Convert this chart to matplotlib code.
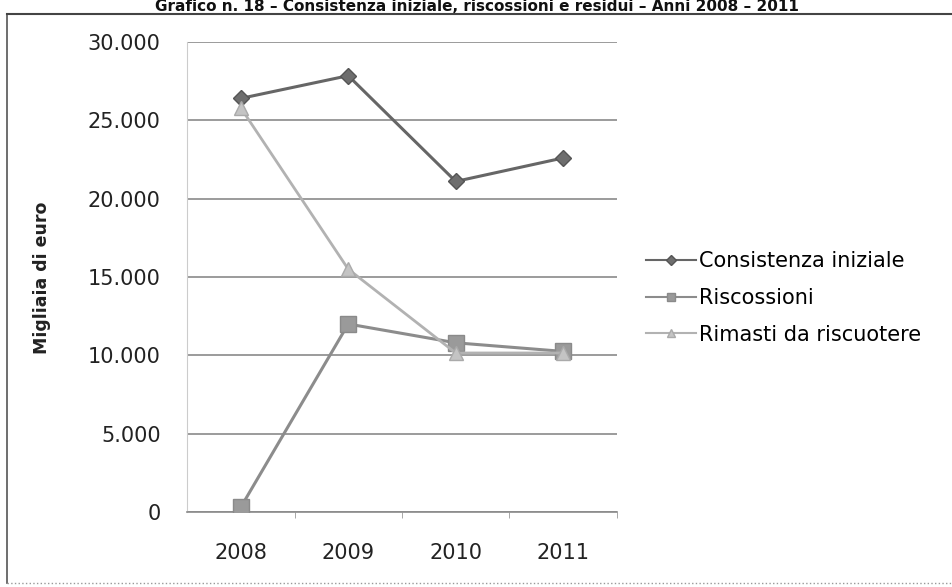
import matplotlib.pyplot as plt
from matplotlib.lines import Line2D
from matplotlib.ticker import FuncFormatter

# dati (migliaia di euro)
anni = ['2008', '2009', '2010', '2011']
consistenza = [26400, 27850, 21100, 22600]
riscossioni = [300, 12000, 10800, 10250]
rimasti = [25800, 15500, 10150, 10150]

fig = plt.figure(figsize=(9.53, 5.87), dpi=100)
ax = fig.add_axes([187 / 953, 1 - 512 / 587, 430 / 953, 470 / 587])

x = range(len(anni))
ax.plot(x, consistenza, color='#666666', lw=2.2, marker='D', ms=8,
        mec='#555555', mfc='#6e6e6e', label='Consistenza iniziale', zorder=4)
ax.plot(x, riscossioni, color='#8c8c8c', lw=2.2, marker='s', ms=11,
        mec='#8a8a8a', mfc='#9a9a9a', label='Riscossioni', zorder=3)
ax.plot(x, rimasti, color='#b2b2b2', lw=2.0, marker='^', ms=10,
        mec='#aaaaaa', mfc='#c4c4c4', label='Rimasti da riscuotere', zorder=5)

ax.set_xlim(-0.5, 3.5)
ax.set_ylim(0, 30000)
ax.set_yticks(range(0, 30001, 5000))
ax.yaxis.set_major_formatter(FuncFormatter(lambda v, p: f'{int(v):,}'.replace(',', '.')))
ax.set_xticks(list(x))
ax.set_xticklabels(anni)
ax.set_xticks([0.5, 1.5, 2.5, 3.5], minor=True)
ax.tick_params(axis='x', which='major', length=0, pad=22, labelsize=15, colors='#222222')
ax.tick_params(axis='x', which='minor', length=4, color='#999999', direction='out')
ax.tick_params(axis='y', length=0, pad=19, labelsize=15, colors='#222222')

ax.grid(axis='y', color='#8a8a8a', lw=1.2)
ax.set_axisbelow(True)
for s in ['top', 'right']:
    ax.spines[s].set_visible(False)
ax.spines['left'].set_color('#cccccc')
ax.spines['bottom'].set_color('#8a8a8a')
ax.spines['bottom'].set_linewidth(1.2)

fig.text(42 / 953, 1 - 278 / 587, 'Migliaia di euro', rotation=90, ha='center',
         va='center', fontsize=12.5, fontweight='bold', color='#222222')

handles = [
    Line2D([], [], color='#666666', lw=1.5, marker='D', ms=5, mfc='#6e6e6e', mec='#555555'),
    Line2D([], [], color='#8c8c8c', lw=1.5, marker='s', ms=6, mfc='#9a9a9a', mec='#8a8a8a'),
    Line2D([], [], color='#b2b2b2', lw=1.5, marker='^', ms=6, mfc='#c4c4c4', mec='#aaaaaa'),
]
fig.legend(handles, ['Consistenza iniziale', 'Riscossioni', 'Rimasti da riscuotere'],
           loc='center left', bbox_to_anchor=(646 / 953, 1 - 298 / 587),
           frameon=False, fontsize=15, handlelength=2.4, labelspacing=0.8,
           handletextpad=0.15, borderpad=0, borderaxespad=0)

# titolo (nella scansione e' tagliato in alto)
fig.text(0.5, 1 - 11 / 587, 'Grafico n. 18 \u2013 Consistenza iniziale, riscossioni e residui \u2013 Anni 2008 \u2013 2011',
         ha='center', va='baseline', fontsize=11, fontweight='bold', color='#111111')

# cornice
fig.add_artist(Line2D([7 / 953, 7 / 953], [1 - 14 / 587, 1 - 583 / 587], color='#555555', lw=1.2))
fig.add_artist(Line2D([7 / 953, 1], [1 - 14 / 587, 1 - 14 / 587], color='#444444', lw=1.5))
fig.add_artist(Line2D([7 / 953, 1], [1 - 583 / 587, 1 - 583 / 587], color='#999999', lw=1.0, ls=':'))

fig.savefig('out.png', dpi=100)
